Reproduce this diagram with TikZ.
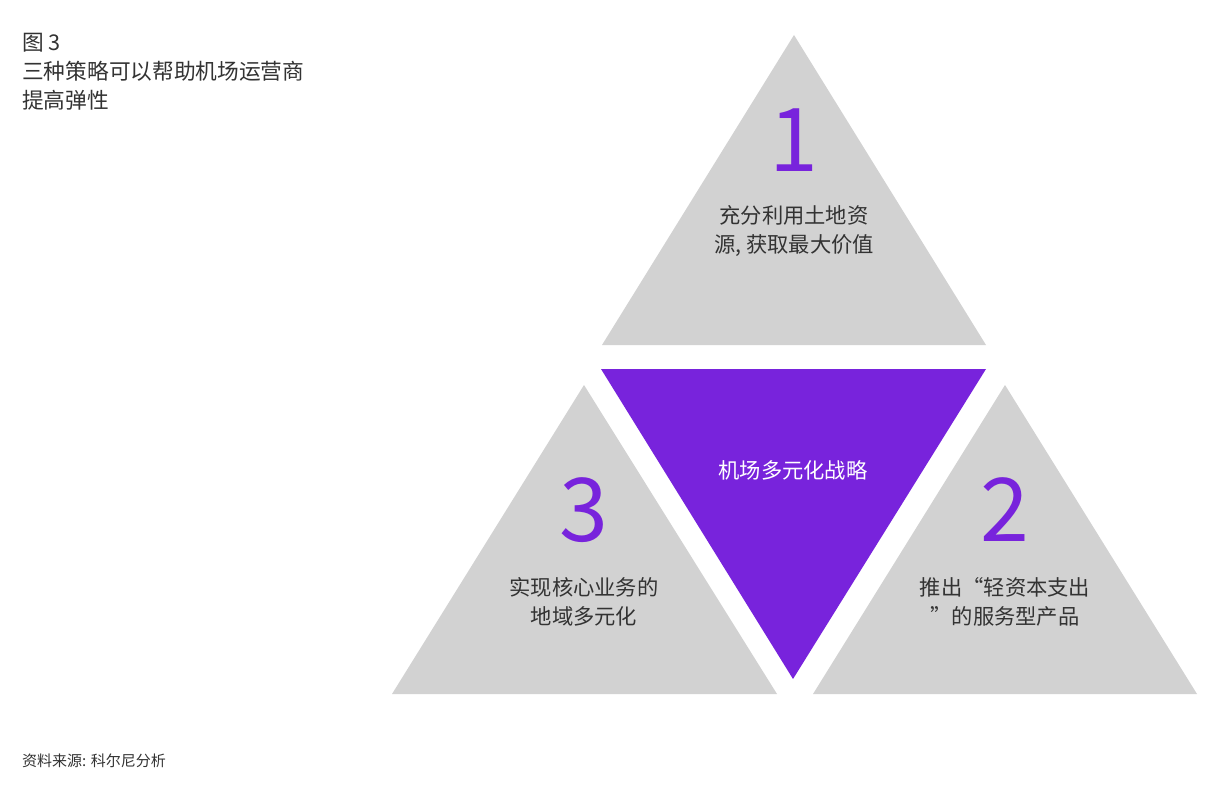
\documentclass[tikz,border=0pt]{standalone}
\usepackage{fontspec}
\setmainfont{Noto Sans CJK SC}
\definecolor{tgray}{HTML}{D2D2D2}
\definecolor{kpurple}{HTML}{7823DC}
\definecolor{tdark}{HTML}{333333}
\tikzset{
  graytri/.style={fill=tgray},
  purpletri/.style={fill=kpurple},
  bignum/.style={text=kpurple, inner sep=0pt, font=\fontsize{88}{88}\selectfont},
  desc/.style={text=tdark, align=center, inner sep=0pt, font=\fontsize{21.3}{28.5}\selectfont},
}
\begin{document}
\begin{tikzpicture}[x=1pt, y=-1pt]
\useasboundingbox[fill=white] (0,0) rectangle (1209,791);
% triangles
\fill[graytri] (602,345) -- (794,35) -- (986,345) -- cycle;
\fill[purpletri] (601,369) -- (986,369) -- (793,679) -- cycle;
\fill[graytri] (392,694) -- (584,385) -- (777,694) -- cycle;
\fill[graytri] (813,694) -- (1005,385) -- (1197,694) -- cycle;
% numbers and texts
\node[bignum] (n1) at (794,140) {1};
\node[desc] (t1) at (794,231) {充分利用土地资\\源, 获取最大价值};
\node[bignum] (n2) at (1005,510) {2};
\node[desc] (t2) at (1005,602) {推出“轻资本支出\\”的服务型产品};
\node[bignum] (n3) at (584,510) {3};
\node[desc] (t3) at (584,602) {实现核心业务的\\地域多元化};
\node[desc, text=white] (center) at (793,470) {机场多元化战略};
% title and source
\node[desc, anchor=west, align=left, font=\fontsize{21.7}{29}\selectfont] (title) at (22,72) {图 3\\三种策略可以帮助机场运营商\\提高弹性};
\node[text=tdark, anchor=west, inner sep=0pt, font=\fontsize{15}{17}\selectfont] (source) at (22,761) {资料来源: 科尔尼分析};
\end{tikzpicture}
\end{document}
